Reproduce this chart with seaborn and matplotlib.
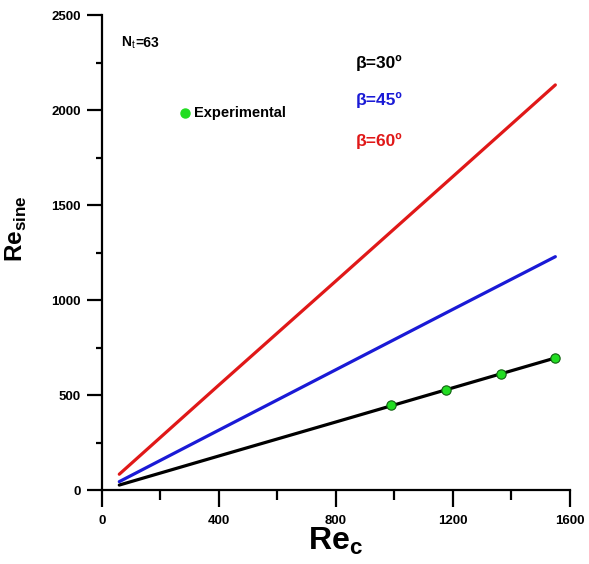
import seaborn as sns
import matplotlib.pyplot as plt
import pandas as pd
import numpy as np
from matplotlib.ticker import MultipleLocator

# values
re_c = [60, 400, 800, 1200, 1550]
re_sine_30 = [26, 179, 358, 538, 695]
re_sine_45 = [44, 315, 633, 951, 1228]
re_sine_60 = [83, 552, 1100, 1650, 2132]

exp_re_c = [990, 1176, 1363, 1549]
exp_re_sine = [445, 527, 613, 696]

angles = ["β=30º", "β=45º", "β=60º"]
colors = ["black", "#1a1ad6", "#e01818"]

sns.set_theme(style="ticks")
plt.rcParams['font.family'] = ['Liberation Sans', 'DejaVu Sans']
plt.rcParams['mathtext.fontset'] = 'custom'
plt.rcParams['mathtext.rm'] = 'Liberation Sans'
plt.rcParams['mathtext.bf'] = 'Liberation Sans:bold'
plt.rcParams['text.color'] = 'black'
plt.rcParams['axes.labelcolor'] = 'black'
plt.rcParams['xtick.color'] = 'black'
plt.rcParams['ytick.color'] = 'black'

fig = plt.figure(figsize=(5.89, 5.64), dpi=100)
ax = fig.add_axes([0.1727, 0.1312, 0.795, 0.8422])

for ys, c in zip([re_sine_30, re_sine_45, re_sine_60], colors):
    sns.lineplot(x=re_c, y=ys, color=c, linewidth=2.3, ax=ax)

sns.scatterplot(x=exp_re_c, y=exp_re_sine, color="#22dd22", edgecolor="#106010",
                s=45, linewidth=0.8, zorder=5, ax=ax)

ax.set_xlim(0, 1600)
ax.set_ylim(0, 2500)
ax.xaxis.set_major_locator(MultipleLocator(400))
ax.xaxis.set_minor_locator(MultipleLocator(200))
ax.yaxis.set_major_locator(MultipleLocator(500))
ax.yaxis.set_minor_locator(MultipleLocator(250))
sns.despine(ax=ax)
for s in ["left", "bottom"]:
    ax.spines[s].set_linewidth(1.6)
    ax.spines[s].set_color("black")

ax.tick_params(axis="x", which="major", length=12, width=1.6, pad=6)
ax.tick_params(axis="x", which="minor", length=7, width=1.6)
ax.tick_params(axis="y", which="major", length=11, width=1.6, pad=4)
ax.tick_params(axis="y", which="minor", length=4, width=1.6)
for lab in ax.get_xticklabels() + ax.get_yticklabels():
    lab.set_fontsize(9.5)
    lab.set_fontweight("bold")
    lab.set_color("black")

ax.set_xlabel(r"$\mathbf{Re}_{\mathbf{c}}$", fontsize=23)
ax.set_ylabel(r"$\mathbf{Re}_{\mathbf{sine}}$", fontsize=17.5)
ax.xaxis.set_label_coords(0.499, -0.075)
ax.yaxis.set_label_coords(-0.155, 0.55)

ax.text(0.042, 0.941, r"$\mathbf{N}_{\mathrm{t}}$", fontsize=10, ha="left", va="center",
        transform=ax.transAxes)
ax.text(0.072, 0.941, "=63", fontsize=10, fontweight="bold", ha="left", va="center",
        transform=ax.transAxes)

ax.plot([0.178], [0.794], "o", color="#22dd22", markersize=6.5, transform=ax.transAxes)
ax.text(0.197, 0.794, "Experimental", fontsize=10.5, fontweight="bold", ha="left",
        va="center", transform=ax.transAxes)

for lab, c, y in zip(angles, colors, [0.90, 0.821, 0.735]):
    ax.text(0.543, y, lab, fontsize=12.5, fontweight="bold", color=c, ha="left",
            va="center", transform=ax.transAxes)

fig.savefig("out.png", dpi=100)
